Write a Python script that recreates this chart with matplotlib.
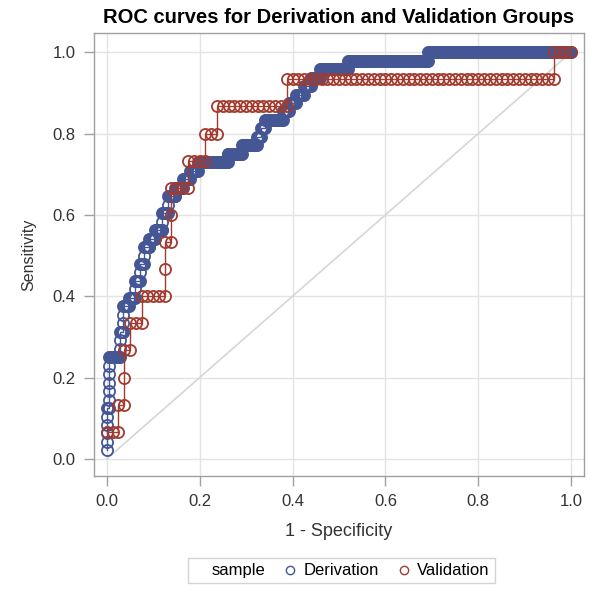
import numpy as np
import matplotlib
matplotlib.use("Agg")
import matplotlib.pyplot as plt
from matplotlib.lines import Line2D

# Observations sorted by decreasing score, run-length coded as
# (number of negatives, number of positives) for each run.
derivation_runs = [
    (0, 6), (2, 6), (12, 3), (4, 3), (6, 1), (6, 2), (6, 2), (4, 2),
    (6, 1), (6, 1), (8, 2), (6, 2), (8, 1), (8, 1), (8, 1), (8, 1),
    (32, 1), (16, 1), (16, 1), (4, 1), (4, 1), (20, 1), (6, 1), (8, 1),
    (8, 1), (8, 1), (10, 1), (30, 1), (86, 1), (154, 0),
]
validation_runs = [
    (0, 1), (2, 1), (1, 2), (1, 1), (2, 1), (4, 2), (1, 2), (3, 1),
    (3, 1), (2, 1), (12, 1), (46, 1), (3, 0),
]

group_names = ["Derivation", "Validation"]
group_colors = ["#445694", "#A23A2E"]

ticks = [0.0, 0.2, 0.4, 0.6, 0.8, 1.0]
tick_labels = ["0.0", "0.2", "0.4", "0.6", "0.8", "1.0"]


def roc_points(runs):
    """Cumulative (1 - specificity, sensitivity) for every observation."""
    labels = np.concatenate([[0] * n + [1] * p for n, p in runs])
    tp = np.cumsum(labels) / labels.sum()
    fp = np.cumsum(1 - labels) / (1 - labels).sum()
    return fp, tp


plt.rcParams["font.family"] = ["Liberation Sans", "DejaVu Sans"]

fig = plt.figure(figsize=(6.01, 6.01), dpi=100)
ax = fig.add_axes([0.156, 0.208, 0.816, 0.737])

ax.plot([0, 1], [0, 1], color="#d6d6d6", lw=1.2, zorder=1)

for runs, color in zip([derivation_runs, validation_runs], group_colors):
    fp, tp = roc_points(runs)
    ax.plot(fp, tp, color=color, lw=1.0, marker="o", markersize=8,
            markerfacecolor="none", markeredgecolor=color,
            markeredgewidth=1.3, zorder=3)

ax.set_xlim(-0.028, 1.028)
ax.set_ylim(-0.042, 1.047)
ax.set_xticks(ticks)
ax.set_xticklabels(tick_labels)
ax.set_yticks(ticks)
ax.set_yticklabels(tick_labels)
ax.grid(True, color="#e3e3e3", lw=1.0, zorder=0)
ax.set_axisbelow(True)

for spine in ax.spines.values():
    spine.set_color("#a0a0a0")
    spine.set_linewidth(1.0)
ax.tick_params(length=7, width=1.0, color="#a0a0a0", labelcolor="#333333",
               labelsize=12, pad=6)

ax.set_xlabel("1 - Specificity", fontsize=13, color="#333333", labelpad=10)
ax.set_ylabel("Sensitivity", fontsize=11.5, color="#333333", labelpad=12)
ax.set_title("ROC curves for Derivation and Validation Groups",
             fontsize=14.5, fontweight="bold", pad=7)

# blank first entry plays the part of the "sample" legend title
handles = [Line2D([], [], linestyle="none")]
for color in group_colors:
    handles.append(Line2D([], [], linestyle="none", marker="o", markersize=6,
                          markerfacecolor="none", markeredgecolor=color,
                          markeredgewidth=1.0))
leg = fig.legend(handles, ["sample"] + group_names, ncol=3,
                 loc="center", bbox_to_anchor=(0.568, 0.05),
                 fontsize=12, frameon=True, fancybox=False,
                 handlelength=0.6, handletextpad=0.5, columnspacing=1.2,
                 borderpad=0.3)
leg.get_frame().set_edgecolor("#c8c8c8")
leg.get_frame().set_linewidth(1.0)

fig.savefig("out.png", dpi=100)
